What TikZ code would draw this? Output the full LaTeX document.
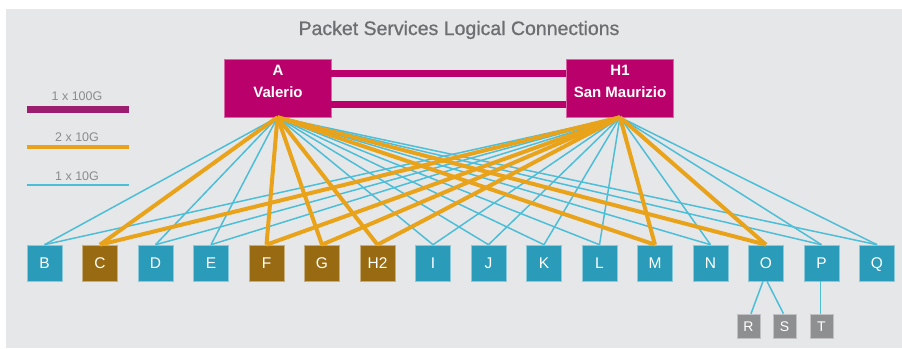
\documentclass[tikz,border=0pt]{standalone}
\usepackage{fontspec}
\setmainfont{Liberation Sans}
\newfontfamily\headingfont[FakeBold=0.9]{Liberation Sans}
\definecolor{panel}{HTML}{E6E7E8}
\definecolor{titlegray}{HTML}{6D6E71}
\definecolor{legendgray}{HTML}{8A8B8D}
\definecolor{hubmagenta}{HTML}{BA006B}
\definecolor{legendpurple}{HTML}{9B1F6E}
\definecolor{linkorange}{HTML}{E9A31B}
\definecolor{linkcyan}{HTML}{4DBED8}
\definecolor{siteblue}{HTML}{2A9CB9}
\definecolor{sitebrown}{HTML}{986B12}
\definecolor{subgray}{HTML}{8E8F91}
\tikzset{
  titletext/.style={text=titlegray, font=\headingfont\fontsize{19.5}{23}\selectfont, inner sep=0pt, anchor=base},
  legendtext/.style={text=legendgray, font=\fontsize{12.5}{15}\selectfont, inner sep=0pt, anchor=base},
  hub/.style={fill=hubmagenta, draw=hubmagenta!60!white, line width=0.5pt, minimum width=107pt, minimum height=58pt, inner sep=0pt},
  hubtext/.style={text=white, font=\bfseries\fontsize{15}{18}\selectfont, inner sep=0pt, anchor=base},
  site/.style={draw=#1!55!white, line width=0.6pt, fill=#1, text=white, minimum width=35pt, minimum height=36pt, inner sep=0pt,
    text height=11pt, text depth=0pt, font=\fontsize{15.5}{18}\selectfont},
  sub/.style={draw=subgray!55!white, line width=0.6pt, fill=subgray, text=white, minimum width=23pt, minimum height=24pt, inner sep=0pt,
    text height=10pt, text depth=0pt, font=\fontsize{14}{16}\selectfont},
  link100/.style={draw=hubmagenta, line width=7pt},
  link20/.style={draw=linkorange, line width=4pt},
  link10/.style={draw=linkcyan, line width=1.5pt},
}
\begin{document}
\begin{tikzpicture}[x=1pt, y=-1pt]
\useasboundingbox (0,0) rectangle (902,348);
\fill[panel] (6,9) rectangle (902,348);

% title
\node[titletext] (title) at (459,35) {Packet Services Logical Connections};

% legend
\node[legendtext] (lg100) at (77,100) {1 x 100G};
\node[legendtext] (lg20) at (77,141) {2 x 10G};
\node[legendtext] (lg10) at (77,180) {1 x 10G};
\draw[draw=legendpurple, line width=7pt] (27,109) -- (129,109);
\draw[link20] (27,147) -- (129,147);
\draw[link10, line width=2pt] (27,185) -- (129,185);

% hub sites
\node[hub] (A) at (277.5,88) {};
\node[hub] (H1) at (620,88) {};
\node[hubtext] (Aname) at (278,75) {A};
\node[hubtext] (Aloc) at (278,97.3) {Valerio};
\node[hubtext] (H1name) at (620,75) {H1};
\node[hubtext] (H1loc) at (620,97.3) {San Maurizio};

% 100G links between the hubs
\coordinate (bartop) at (0,73.5);
\coordinate (barbot) at (0,104);
\draw[link100] (A.east |- bartop) -- (H1.west |- bartop);
\draw[link100] (A.east |- barbot) -- (H1.west |- barbot);

% access sites
\foreach \nm/\col [count=\i from 0] in {B/siteblue, C/sitebrown, D/siteblue, E/siteblue, F/sitebrown, G/sitebrown,
    H2/sitebrown, I/siteblue, J/siteblue, K/siteblue, L/siteblue, M/siteblue, N/siteblue, O/siteblue, P/siteblue, Q/siteblue}
  \node[site=\col] (\nm) at (44.5+55.5*\i,263) {\nm};

% single 10G links
\foreach \nm in {B, D, E, I, J, K, L, N, P, Q} {
  \draw[link10] (A.south) -- (\nm.north);
  \draw[link10] (H1.south) -- (\nm.north);
}
% dual 10G links
\foreach \nm in {C, F, G, H2, M, O} {
  \draw[link20] (A.south) -- (\nm.north);
  \draw[link20] (H1.south) -- (\nm.north);
}

% sub-sites
\node[sub] (R) at (748.5,326) {R};
\node[sub] (S) at (784.5,326) {S};
\node[sub] (T) at (821.5,326) {T};
\draw[link10] ([xshift=-3pt]O.south) -- ([xshift=2.5pt]R.north);
\draw[link10] ([xshift=1pt]O.south) -- ([xshift=-1pt]S.north);
\draw[link10] ([xshift=-1pt]P.south) -- ([xshift=-1pt]T.north);
\end{tikzpicture}
\end{document}
